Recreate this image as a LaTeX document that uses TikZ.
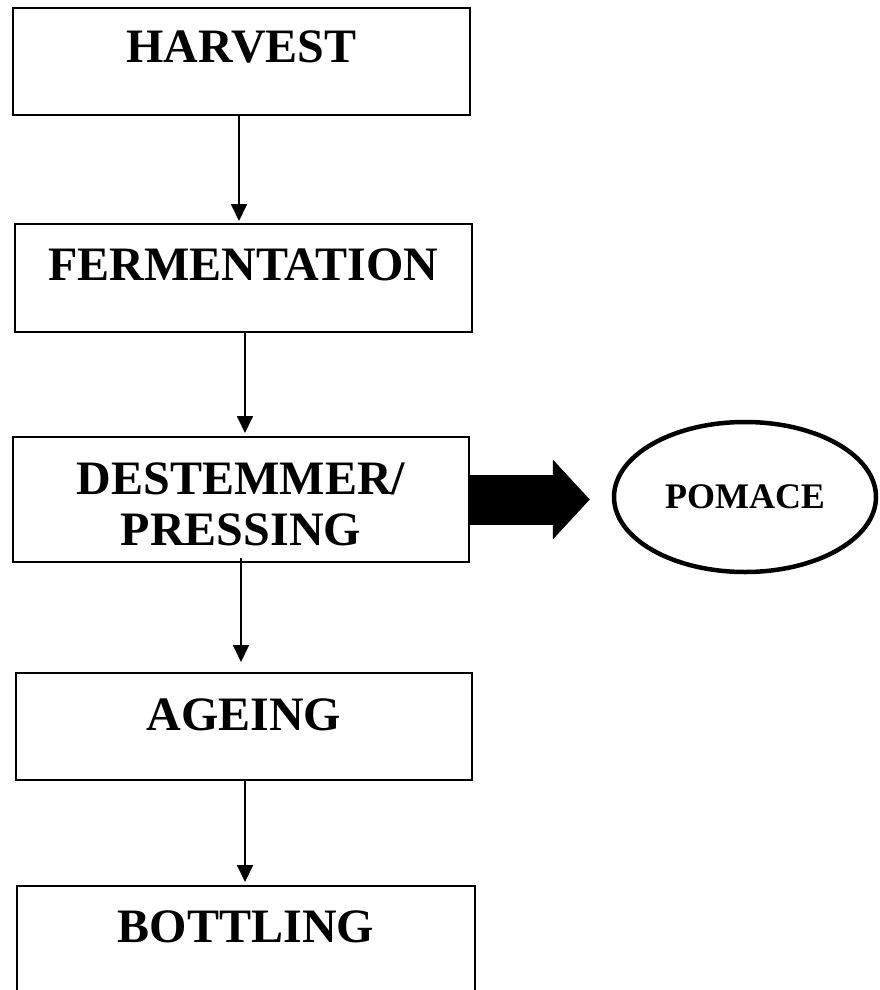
\documentclass[tikz,border=0pt]{standalone}
\usepackage{fontspec}
\setmainfont{Liberation Serif}
\usetikzlibrary{arrows.meta,shapes.geometric}
\begin{document}
\begin{tikzpicture}[x=1pt,y=-1pt,
		stage/.style={draw,line width=1.8pt,anchor=north west,inner sep=0pt,outer sep=0pt,align=center,font=\fontsize{48}{51}\selectfont\bfseries},
		flow/.style={line width=1.8pt,-{Triangle[width=16pt,length=17pt]}}]
			\path[use as bounding box,clip] (0,0) rectangle (879,990);
			\node[stage,text width=457pt,text height=55pt,text depth=52pt] (harvest) at (13,8) {HARVEST};
			\node[stage,text width=457pt,text height=56pt,text depth=52pt] (ferm) at (15,224) {FERMENTATION};
			\node[stage,text width=456pt,text height=57pt,text depth=68pt] (destem) at (13,437) {DESTEMMER/\\PRESSING\hspace{24pt}};
			\node[stage,text width=456pt,text height=57pt,text depth=50pt] (ageing) at (16,673) {AGEING};
			\node[stage,text width=458pt,text height=56pt,text depth=64pt] (bottling) at (17,886) {BOTTLING};
			\node[draw,ellipse,line width=4.5pt,minimum width=262pt,minimum height=150pt,inner sep=0pt,font=\fontsize{36}{40}\selectfont\bfseries] (pomace) at (745,497) {POMACE};
			% thin arrows between the stages
			\draw[flow,shorten >=3pt] ([xshift=-2.5pt]harvest.south) -- ([xshift=-2.5pt]harvest.south |- ferm.north);
			\draw[flow,shorten >=4pt] ([xshift=1.5pt]ferm.south) -- ([xshift=1.5pt]ferm.south |- destem.north);
			\draw[flow,shorten <=-4pt,shorten >=11pt] (destem.south) -- (destem.south |- ageing.north);
			\draw[flow,shorten >=4pt] ([xshift=1pt]ageing.south) -- ([xshift=1pt]ageing.south |- bottling.north);
			% block arrow to the pomace
			\draw[line width=50pt,-{Triangle[width=80pt,length=37pt,line width=0pt]},shorten >=22pt] (destem.east) -- (destem.east -| pomace.west);
			\end{tikzpicture}
\end{document}
